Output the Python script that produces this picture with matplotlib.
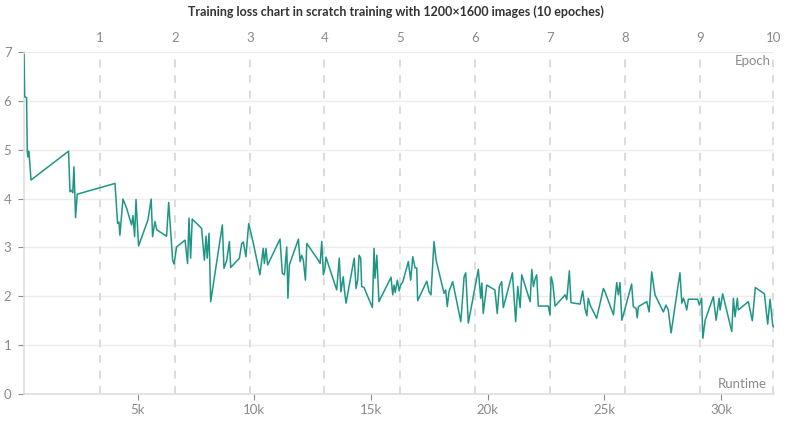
import matplotlib
matplotlib.use("Agg")
import matplotlib.pyplot as plt

# runtime (thousands of seconds) and loss values
runtime_k = [0.13, 0.16, 0.24, 0.27, 0.30, 0.33, 0.36, 0.43, 2.04, 2.10, 2.17, 2.22, 2.27, 2.34, 2.41,
             4.03, 4.14, 4.20, 4.24, 4.37, 4.53, 4.74, 4.80, 4.87, 4.93, 5.04, 5.44, 5.58, 5.64, 5.74,
             5.82, 6.24, 6.33, 6.50, 6.56, 6.67, 7.03, 7.14, 7.20, 7.27, 7.34, 7.74, 7.86, 7.93, 7.98,
             8.06, 8.13, 8.63, 8.70, 8.82, 8.93, 8.99, 9.36, 9.46, 9.53, 9.64, 9.76, 9.96, 10.24, 10.38,
             10.43, 10.50, 10.57, 11.10, 11.20, 11.29, 11.39, 11.44, 11.50, 11.89, 11.96, 12.03, 12.10,
             12.19, 12.25, 12.74, 12.82, 12.89, 12.96, 13.03, 13.07, 13.53, 13.64, 13.71, 13.81, 13.86,
             13.93, 14.28, 14.36, 14.43, 14.49, 14.56, 14.60, 14.70, 15.06, 15.13, 15.17, 15.25, 15.34,
             15.86, 15.93, 15.99, 16.04, 16.13, 16.21, 16.27, 16.36, 16.60, 16.70, 16.79, 16.89, 16.96,
             17.00, 17.39, 17.49, 17.57, 17.70, 17.79, 18.13, 18.20, 18.27, 18.34, 18.50, 18.85, 18.99,
             19.06, 19.17, 19.60, 19.70, 19.75, 19.81, 19.96, 20.31, 20.41, 20.50, 20.60, 20.67, 21.06,
             21.20, 21.29, 21.39, 21.46, 21.82, 21.89, 21.96, 22.03, 22.10, 22.17, 22.60, 22.67, 22.72,
             22.79, 22.89, 23.32, 23.39, 23.50, 23.57, 23.96, 24.07, 24.17, 24.25, 24.31, 24.39, 24.67,
             24.96, 25.03, 25.39, 25.53, 25.60, 25.67, 25.75, 26.17, 26.24, 26.36, 26.41, 26.46, 26.82,
             26.92, 27.03, 27.17, 27.53, 27.64, 27.74, 27.86, 28.24, 28.32, 28.39, 28.46, 28.53, 28.60,
             29.00, 29.07, 29.17, 29.22, 29.32, 29.67, 29.79, 29.92, 29.96, 30.07, 30.46, 30.53, 30.60,
             30.70, 30.74, 31.17, 31.34, 31.47, 31.86, 32.00, 32.10, 32.22, 32.27]
loss = [6.95, 6.08, 6.07, 4.96, 4.85, 4.97, 4.85, 4.38, 4.97, 4.14, 4.17, 4.12, 4.65, 3.61, 4.09,
        4.31, 3.49, 3.52, 3.25, 3.99, 3.80, 3.46, 3.65, 3.22, 3.98, 3.03, 3.56, 3.99, 3.22, 3.53,
        3.36, 3.23, 3.92, 2.74, 2.66, 3.01, 3.15, 2.67, 3.60, 2.78, 3.58, 3.39, 2.74, 3.23, 2.78,
        3.29, 1.89, 3.46, 2.57, 2.74, 3.12, 2.59, 2.78, 3.08, 3.11, 2.81, 3.49, 3.08, 2.44, 2.98,
        2.67, 2.98, 2.64, 3.17, 2.47, 2.44, 3.01, 1.96, 2.64, 3.17, 2.71, 2.84, 2.74,
        2.33, 3.08, 2.74, 2.67, 3.12, 2.44, 2.58, 2.80, 2.13, 2.78, 2.09, 2.40, 2.13,
        1.86, 2.78, 2.16, 2.33, 2.84, 2.78, 2.20, 2.18, 1.77, 2.98, 2.37, 2.84, 1.89,
        2.39, 2.03, 2.23, 2.08, 2.33, 2.11, 2.23, 2.29, 2.71, 2.33, 2.81, 2.58, 2.58,
        1.91, 2.31, 2.09, 2.03, 3.12, 2.74, 2.06, 2.13, 1.79, 2.09, 2.30, 1.48, 2.40,
        2.48, 1.45, 2.55, 1.96, 2.27, 1.65, 2.23, 2.13, 1.65, 2.20, 2.30, 1.77, 2.48,
        1.48, 2.20, 1.77, 2.44, 1.89, 2.55, 2.20, 2.35, 2.44, 1.80, 1.80, 1.62, 2.40,
        2.27, 1.80, 2.03, 1.93, 2.52, 1.87, 1.84, 2.11, 1.75, 1.60, 1.96, 1.82, 1.55,
        2.16, 2.09, 1.62, 2.28, 2.03, 2.28, 1.51, 2.25, 1.79, 1.75, 1.56, 1.79, 1.89,
        1.68, 2.50, 2.03, 1.68, 1.82, 1.72, 1.25, 2.48, 1.86, 1.96, 1.86, 1.72, 1.94,
        1.94, 1.82, 1.96, 1.14, 1.51, 1.99, 1.51, 1.96, 1.72, 2.05, 1.28, 1.96, 1.58,
        1.96, 1.72, 1.89, 1.50, 2.18, 2.05, 1.43, 1.94, 1.39, 1.37]

# epoch boundaries (runtime, thousands of seconds)
epoch_runtime_k = [3.39, 6.60, 9.81, 13.00, 16.24, 19.46, 22.67, 25.90, 29.10, 32.24]
epoch_labels = ["1", "2", "3", "4", "5", "6", "7", "8", "9", "10"]

runtime_ticks_k = [5, 10, 15, 20, 25, 30]
runtime_tick_labels = ["5k", "10k", "15k", "20k", "25k", "30k"]
loss_ticks = [0, 1, 2, 3, 4, 5, 6, 7]

title = "Training loss chart in scratch training with 1200\u00d71600 images (10 epoches)"

plt.rcParams["font.family"] = ["Lato", "DejaVu Sans"]

W, H = 790, 421
fig = plt.figure(figsize=(W / 100, H / 100), dpi=100)
ax = fig.add_axes([24 / W, 1 - 394 / H, (774 - 24) / W, (394 - 52) / H])

line_color = "#1f9685"
tick_color = "#8a8a8a"
grid_color = "#ececec"

ax.set_xlim(0.13, 32.27)
ax.set_ylim(0, 7)

for y in loss_ticks[1:]:
    ax.axhline(y, color=grid_color, lw=1, zorder=0)
for xe in epoch_runtime_k:
    ax.axvline(xe, color="#dcdcdf", lw=1.4, ls=(0, (4, 4)), zorder=0.5)

ax.plot(runtime_k, loss, color=line_color, lw=1.1, zorder=3)

ax.set_yticks(loss_ticks)
ax.set_yticklabels([str(v) for v in loss_ticks])
ax.set_xticks(runtime_ticks_k)
ax.set_xticklabels(runtime_tick_labels)
ax.tick_params(axis="both", colors=tick_color, labelsize=9.5, length=4, width=0.8)
ax.tick_params(axis="x", pad=3)
ax.tick_params(axis="y", pad=5)

for s in ["top", "right"]:
    ax.spines[s].set_visible(False)
for s in ["left", "bottom"]:
    ax.spines[s].set_color("#dedede")
    ax.spines[s].set_linewidth(1.2)

ax2 = ax.twiny()
ax2.set_xlim(ax.get_xlim())
ax2.set_xticks(epoch_runtime_k)
ax2.set_xticklabels(epoch_labels)
ax2.tick_params(axis="x", colors=tick_color, labelsize=9.5, length=0, pad=6)
for s in ax2.spines.values():
    s.set_visible(False)

ax.text(0.995, 0.99, "Epoch", transform=ax.transAxes, ha="right", va="top",
        color=tick_color, fontsize=9.5)
ax.text(0.99, 0.012, "Runtime", transform=ax.transAxes, ha="right", va="bottom",
        color=tick_color, fontsize=9.5)

fig.text(396 / W, 1 - 12 / H, title, ha="center", va="center", fontsize=9,
         fontweight="bold", color="#333333")

fig.savefig("out.png", dpi=100)
